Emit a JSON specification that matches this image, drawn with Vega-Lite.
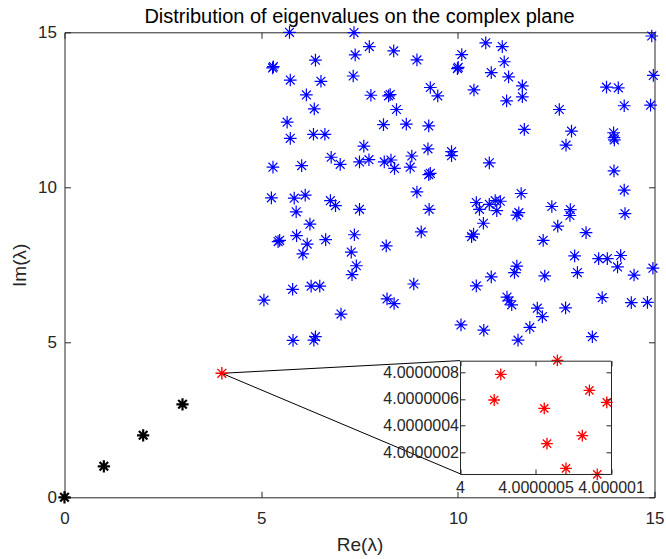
{
  "$schema": "https://vega.github.io/schema/vega-lite/v6.json",
  "width": 590,
  "height": 465,
  "autosize": {"type": "none"},
  "padding": {"left": 64.5, "top": 32.3, "right": 11.5, "bottom": 61.7},
  "title": {"text": "Distribution of eigenvalues on the complex plane", "font": "Liberation Sans", "fontSize": 20, "fontWeight": "normal", "color": "#000000", "offset": -4},
  "config": {
    "view": {"stroke": null},
    "axis": {"grid": false, "labelFont": "Liberation Sans", "titleFont": "Liberation Sans", "domainColor": "#262626", "tickColor": "#262626", "labelColor": "#262626", "titleColor": "#262626", "titleFontWeight": "normal", "domainWidth": 1, "tickWidth": 1, "labelFlush": false, "labelOverlap": false}
  },
  "datasets": {
    "blue": [
      {"x": 5.72, "y": 15.0}, {"x": 7.36, "y": 14.99}, {"x": 7.75, "y": 14.54}, {"x": 7.39, "y": 14.27}, {"x": 8.37, "y": 14.40},
      {"x": 6.38, "y": 14.10}, {"x": 5.29, "y": 13.85}, {"x": 5.31, "y": 13.89}, {"x": 5.74, "y": 13.46}, {"x": 6.52, "y": 13.42},
      {"x": 7.34, "y": 13.59}, {"x": 6.15, "y": 12.98}, {"x": 6.35, "y": 12.53}, {"x": 7.79, "y": 12.97}, {"x": 8.24, "y": 12.95},
      {"x": 8.28, "y": 12.99}, {"x": 5.66, "y": 12.10}, {"x": 8.11, "y": 12.02}, {"x": 5.74, "y": 11.58}, {"x": 6.33, "y": 11.71},
      {"x": 6.62, "y": 11.71}, {"x": 8.96, "y": 14.11}, {"x": 10.10, "y": 14.28}, {"x": 10.71, "y": 14.66}, {"x": 11.13, "y": 14.54},
      {"x": 9.99, "y": 13.83}, {"x": 10.01, "y": 13.87}, {"x": 11.18, "y": 14.05}, {"x": 10.85, "y": 13.70}, {"x": 11.29, "y": 13.56},
      {"x": 11.64, "y": 13.27}, {"x": 11.64, "y": 12.92}, {"x": 9.30, "y": 13.22}, {"x": 9.49, "y": 12.95}, {"x": 10.41, "y": 13.14},
      {"x": 11.24, "y": 12.79}, {"x": 8.44, "y": 12.51}, {"x": 8.69, "y": 12.04}, {"x": 9.26, "y": 11.98}, {"x": 11.69, "y": 11.87},
      {"x": 14.93, "y": 14.88}, {"x": 14.97, "y": 13.61}, {"x": 13.78, "y": 13.23}, {"x": 14.08, "y": 13.21}, {"x": 12.58, "y": 12.51},
      {"x": 14.23, "y": 12.63}, {"x": 14.90, "y": 12.65}, {"x": 12.89, "y": 11.81}, {"x": 13.96, "y": 11.76}, {"x": 7.61, "y": 11.33},
      {"x": 5.30, "y": 10.65}, {"x": 6.03, "y": 10.70}, {"x": 6.78, "y": 10.97}, {"x": 7.01, "y": 10.74}, {"x": 7.50, "y": 10.82},
      {"x": 7.74, "y": 10.89}, {"x": 8.13, "y": 10.82}, {"x": 8.30, "y": 10.88}, {"x": 8.39, "y": 10.61}, {"x": 5.26, "y": 9.66},
      {"x": 5.84, "y": 9.65}, {"x": 6.12, "y": 9.75}, {"x": 5.89, "y": 9.21}, {"x": 6.76, "y": 9.57}, {"x": 6.89, "y": 9.41},
      {"x": 7.50, "y": 9.29}, {"x": 6.24, "y": 8.81}, {"x": 5.43, "y": 8.25}, {"x": 5.47, "y": 8.29}, {"x": 5.90, "y": 8.44},
      {"x": 6.17, "y": 8.17}, {"x": 6.64, "y": 8.31}, {"x": 7.37, "y": 8.47}, {"x": 8.18, "y": 8.11}, {"x": 8.83, "y": 11.01},
      {"x": 9.24, "y": 11.24}, {"x": 9.84, "y": 11.15}, {"x": 9.84, "y": 11.02}, {"x": 8.79, "y": 10.65}, {"x": 9.26, "y": 10.41},
      {"x": 9.30, "y": 10.45}, {"x": 10.80, "y": 10.79}, {"x": 8.96, "y": 9.85}, {"x": 9.27, "y": 9.29}, {"x": 10.47, "y": 9.51},
      {"x": 10.55, "y": 9.29}, {"x": 10.80, "y": 9.45}, {"x": 10.95, "y": 9.57}, {"x": 11.08, "y": 9.55}, {"x": 10.99, "y": 9.25},
      {"x": 11.61, "y": 9.80}, {"x": 11.55, "y": 9.18}, {"x": 11.50, "y": 9.10}, {"x": 10.65, "y": 8.84}, {"x": 9.07, "y": 8.56},
      {"x": 10.40, "y": 8.49}, {"x": 10.35, "y": 8.41}, {"x": 13.97, "y": 11.60}, {"x": 13.98, "y": 11.53}, {"x": 12.75, "y": 11.36},
      {"x": 13.97, "y": 10.53}, {"x": 14.23, "y": 9.91}, {"x": 12.39, "y": 9.38}, {"x": 12.86, "y": 9.28}, {"x": 12.85, "y": 9.09},
      {"x": 14.25, "y": 9.15}, {"x": 12.54, "y": 8.75}, {"x": 13.26, "y": 8.54}, {"x": 12.17, "y": 8.29}, {"x": 6.06, "y": 7.85},
      {"x": 7.29, "y": 7.91}, {"x": 7.42, "y": 7.47}, {"x": 7.31, "y": 7.18}, {"x": 5.80, "y": 6.71}, {"x": 6.27, "y": 6.81},
      {"x": 6.49, "y": 6.81}, {"x": 5.07, "y": 6.36}, {"x": 8.20, "y": 6.40}, {"x": 8.38, "y": 6.25}, {"x": 7.03, "y": 5.91},
      {"x": 5.81, "y": 5.06}, {"x": 6.34, "y": 5.07}, {"x": 6.38, "y": 5.18}, {"x": 8.88, "y": 6.88}, {"x": 10.47, "y": 6.82},
      {"x": 10.85, "y": 7.11}, {"x": 11.50, "y": 7.46}, {"x": 11.44, "y": 7.25}, {"x": 11.25, "y": 6.46}, {"x": 11.30, "y": 6.34},
      {"x": 11.37, "y": 6.21}, {"x": 10.08, "y": 5.56}, {"x": 10.66, "y": 5.39}, {"x": 11.53, "y": 5.07}, {"x": 11.83, "y": 5.48},
      {"x": 12.97, "y": 7.79}, {"x": 13.58, "y": 7.70}, {"x": 13.80, "y": 7.70}, {"x": 14.14, "y": 7.80}, {"x": 14.06, "y": 7.43},
      {"x": 13.04, "y": 7.25}, {"x": 12.21, "y": 7.14}, {"x": 14.48, "y": 7.17}, {"x": 14.96, "y": 7.39}, {"x": 13.67, "y": 6.44},
      {"x": 14.41, "y": 6.28}, {"x": 14.82, "y": 6.29}, {"x": 12.02, "y": 6.10}, {"x": 12.15, "y": 5.83}, {"x": 12.74, "y": 6.11},
      {"x": 13.42, "y": 5.18}
    ],
    "black": [{"x": 0, "y": 0}, {"x": 1, "y": 1}, {"x": 2, "y": 2}, {"x": 3, "y": 3}],
    "red": [{"x": 4, "y": 4}],
    "links": [{"x": 4, "y": 4, "x2": 10.06, "y2": 4.41}, {"x": 4, "y": 4, "x2": 10.06, "y2": 0.758}],
    "insetbox": [{"x": 4, "x2": 4.000001, "y": 4.0000000375, "y2": 4.000000887}],
    "inset": [
      {"x": 4.0000002265, "y": 4.0000005925}, {"x": 4.00000027, "y": 4.000000785}, {"x": 4.000000645, "y": 4.00000089},
      {"x": 4.000000558, "y": 4.00000053}, {"x": 4.000000576, "y": 4.000000265}, {"x": 4.000000702, "y": 4.00000008},
      {"x": 4.00000081, "y": 4.000000325}, {"x": 4.000000857, "y": 4.000000665}, {"x": 4.000000972, "y": 4.000000575},
      {"x": 4.000000909, "y": 4.000000035}
    ]
  },
  "layer": [
    {
      "layer": [
        {
          "data": {"name": "blue"},
          "mark": {"type": "point", "shape": "M-1,0L1,0M0,-1L0,1M-0.7,-0.7L0.7,0.7M-0.7,0.7L0.7,-0.7", "filled": false, "color": "#0000ff", "size": 160, "strokeWidth": 1.2, "opacity": 1},
          "encoding": {
            "x": {"field": "x", "type": "quantitative", "scale": {"domain": [0, 15], "nice": false, "zero": false},
                  "axis": {"orient": "bottom", "values": [0, 5, 10, 15], "format": "d", "tickSize": -6, "labelFontSize": 17, "labelPadding": 19, "title": "Re(λ)", "titleFontSize": 19, "titlePadding": 9}},
            "y": {"field": "y", "type": "quantitative", "scale": {"domain": [0, 15], "nice": false, "zero": false},
                  "axis": {"orient": "left", "values": [0, 5, 10, 15], "format": "d", "tickSize": -6, "labelFontSize": 17, "labelPadding": 14, "title": "Im(λ)", "titleFontSize": 19, "titlePadding": 8}}
          }
        },
        {
          "data": {"name": "black"},
          "mark": {"type": "point", "shape": "M-1,0L1,0M0,-1L0,1M-0.7,-0.7L0.7,0.7M-0.7,0.7L0.7,-0.7", "filled": false, "color": "#000000", "size": 150, "strokeWidth": 2.2, "opacity": 1},
          "encoding": {
            "x": {"field": "x", "type": "quantitative", "scale": {"domain": [0, 15], "nice": false, "zero": false}, "axis": null},
            "y": {"field": "y", "type": "quantitative", "scale": {"domain": [0, 15], "nice": false, "zero": false}, "axis": null}
          }
        },
        {
          "data": {"name": "links"},
          "mark": {"type": "rule", "color": "#000000", "strokeWidth": 1},
          "encoding": {
            "x": {"field": "x", "type": "quantitative", "scale": {"domain": [0, 15], "nice": false, "zero": false}, "axis": null},
            "y": {"field": "y", "type": "quantitative", "scale": {"domain": [0, 15], "nice": false, "zero": false}, "axis": null},
            "x2": {"field": "x2"},
            "y2": {"field": "y2"}
          }
        },
        {
          "data": {"name": "red"},
          "mark": {"type": "point", "shape": "M-1,0L1,0M0,-1L0,1M-0.7,-0.7L0.7,0.7M-0.7,0.7L0.7,-0.7", "filled": false, "color": "#ff0000", "size": 160, "strokeWidth": 1.4, "opacity": 1},
          "encoding": {
            "x": {"field": "x", "type": "quantitative", "scale": {"domain": [0, 15], "nice": false, "zero": false},
                  "axis": {"orient": "top", "values": [0, 5, 10, 15], "tickSize": -6, "labels": false, "title": null}},
            "y": {"field": "y", "type": "quantitative", "scale": {"domain": [0, 15], "nice": false, "zero": false},
                  "axis": {"orient": "right", "values": [0, 5, 10, 15], "tickSize": -6, "labels": false, "title": null}}
          }
        }
      ],
      "resolve": {"axis": {"x": "independent", "y": "independent"}}
    },
    {
      "layer": [
        {
          "data": {"name": "insetbox"},
          "mark": {"type": "rect", "fill": "#ffffff", "stroke": null},
          "encoding": {
            "x": {"field": "x", "type": "quantitative", "scale": {"domain": [4, 4.000001], "range": [395.5, 546.5], "nice": false, "zero": false},
                  "axis": {"orient": "bottom", "offset": -23.3, "values": [4, 4.0000005, 4.000001], "format": ".7~f", "tickSize": -5, "labelFontSize": 16, "labelPadding": 10, "title": null, "zindex": 1}},
            "x2": {"field": "x2"},
            "y": {"field": "y", "type": "quantitative", "scale": {"domain": [4.0000000375, 4.000000887], "range": [441.7, 328.4], "nice": false, "zero": false},
                  "axis": {"orient": "left", "offset": -395.5, "values": [4.0000002, 4.0000004, 4.0000006, 4.0000008], "format": ".7~f", "tickSize": -5, "labelFontSize": 16, "labelPadding": 6.5, "title": null, "zindex": 1}},
            "y2": {"field": "y2"}
          }
        },
        {
          "data": {"name": "inset"},
          "mark": {"type": "point", "shape": "M-1,0L1,0M0,-1L0,1M-0.7,-0.7L0.7,0.7M-0.7,0.7L0.7,-0.7", "filled": false, "color": "#ff0000", "size": 140, "strokeWidth": 1.3, "opacity": 1},
          "encoding": {
            "x": {"field": "x", "type": "quantitative", "scale": {"domain": [4, 4.000001], "range": [395.5, 546.5], "nice": false, "zero": false},
                  "axis": {"orient": "top", "offset": -328.4, "values": [4, 4.0000005, 4.000001], "tickSize": -5, "labels": false, "title": null, "zindex": 1}},
            "y": {"field": "y", "type": "quantitative", "scale": {"domain": [4.0000000375, 4.000000887], "range": [441.7, 328.4], "nice": false, "zero": false},
                  "axis": {"orient": "right", "offset": -43.5, "values": [4.0000002, 4.0000004, 4.0000006, 4.0000008], "tickSize": -5, "labels": false, "title": null, "zindex": 1}}
          }
        }
      ],
      "resolve": {"axis": {"x": "independent", "y": "independent"}}
    }
  ],
  "resolve": {"scale": {"x": "independent", "y": "independent"}}
}
